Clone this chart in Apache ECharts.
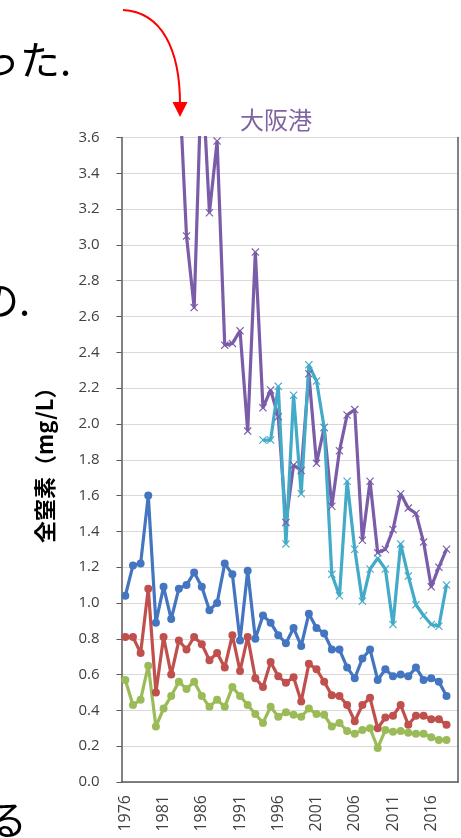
<!DOCTYPE html>
<html>
<head>
<meta charset="utf-8">
<script src="https://cdn.jsdelivr.net/npm/echarts@6/dist/echarts.min.js"></script>
<style>
  html, body {margin: 0; padding: 0; background: #fff; overflow: hidden;}
  #chart {width: 461px; height: 838px;}
</style>
</head>
<body>
<div id="chart"></div>
<script>
// 年 (1976-2019)
const years = []
for (let y = 1976; y <= 2019; y++) years.push(String(y))

const yTicks = ['0.0', '0.2', '0.4', '0.6', '0.8', '1.0', '1.2', '1.4', '1.6', '1.8',
    '2.0', '2.2', '2.4', '2.6', '2.8', '3.0', '3.2', '3.4', '3.6']

// 大阪港 (紫)
const osaka = [null, null, null, null, null, null, null, 3.95, 3.05, 2.65,
    4.0, 3.18, 3.58, 2.44, 2.45, 2.52, 1.96, 2.96, 2.09, 2.19,
    2.04, 1.45, 1.77, 1.74, 2.28, 1.78, 1.98, 1.54, 1.85, 2.05,
    2.08, 1.35, 1.68, 1.28, 1.30, 1.41, 1.61, 1.53, 1.50, 1.34,
    1.09, 1.20, 1.30, null]

// 水色
const cyan = [null, null, null, null, null, null, null, null, null, null,
    null, null, null, null, null, null, null, null, 1.91, 1.91,
    2.21, 1.33, 2.16, 1.61, 2.33, 2.24, 1.98, 1.16, 1.04, 1.68,
    1.30, 1.01, 1.19, 1.25, 1.19, 0.88, 1.33, 1.15, 0.99, 0.93,
    0.88, 0.87, 1.10, null]

// 青
const blue = [1.04, 1.21, 1.22, 1.60, 0.89, 1.09, 0.91, 1.08, 1.10, 1.17,
    1.09, 0.96, 1.00, 1.22, 1.16, 0.79, 1.18, 0.80, 0.93, 0.89,
    0.82, 0.775, 0.86, 0.76, 0.94, 0.86, 0.83, 0.74, 0.74, 0.64,
    0.58, 0.69, 0.74, 0.57, 0.63, 0.59, 0.60, 0.59, 0.64, 0.57,
    0.58, 0.56, 0.48, null]

// 赤
const red = [0.81, 0.81, 0.72, 1.08, 0.50, 0.81, 0.60, 0.79, 0.74, 0.81,
    0.77, 0.68, 0.72, 0.64, 0.82, 0.62, 0.81, 0.58, 0.53, 0.67,
    0.59, 0.555, 0.585, 0.45, 0.66, 0.63, 0.56, 0.485, 0.48, 0.43,
    0.34, 0.43, 0.47, 0.30, 0.36, 0.37, 0.43, 0.32, 0.37, 0.37,
    0.35, 0.35, 0.32, null]

// 緑
const green = [0.57, 0.43, 0.46, 0.65, 0.31, 0.41, 0.48, 0.56, 0.52, 0.56,
    0.48, 0.42, 0.46, 0.42, 0.53, 0.48, 0.43, 0.38, 0.33, 0.42,
    0.365, 0.39, 0.375, 0.365, 0.41, 0.38, 0.375, 0.31, 0.33, 0.285,
    0.27, 0.29, 0.30, 0.19, 0.29, 0.28, 0.285, 0.275, 0.27, 0.27,
    0.25, 0.235, 0.235, null]

const xMark = 'path://M0,1L1,0L5,4L9,0L10,1L6,5L10,9L9,10L5,6L1,10L0,9L4,5Z'
const cjk = '"Noto Sans CJK JP", "Noto Sans", sans-serif'
const num = '"Open Sans", "Noto Sans", sans-serif'

function lineSeries(data, color, symbol, size) {
    return {
        type: 'line',
        data: data,
        symbol: symbol,
        symbolSize: size,
        showSymbol: true,
        showAllSymbol: true,
        connectNulls: false,
        lineStyle: {color: color, width: 3.2},
        itemStyle: {color: color},
        animation: false
    }
}

const chart = echarts.init(document.getElementById('chart'), null, {renderer: 'canvas'})
chart.setOption({
    animation: false,
    title: {
        text: '大阪港',
        left: 271,
        top: 103,
        textAlign: 'center',
        textStyle: {color: '#8064a2', fontSize: 24, fontWeight: 'normal', fontFamily: cjk}
    },
    grid: {left: 121.5, right: 3, top: 137.5, bottom: 56},
    xAxis: {
        type: 'category',
        data: years,
        boundaryGap: true,
        axisLine: {lineStyle: {color: '#595959', width: 1.5}},
        axisTick: {interval: 0, length: 5, lineStyle: {color: '#595959'}},
        axisLabel: {interval: 4, rotate: 90, margin: 13, color: '#404040', fontSize: 16, fontFamily: num}
    },
    yAxis: [{
        type: 'value',
        min: 0,
        max: 3.6,
        interval: 0.2,
        name: '全窒素（mg/L）',
        nameLocation: 'middle',
        nameRotate: 90,
        nameGap: 66,
        nameTextStyle: {color: '#000', fontSize: 22, fontWeight: 'bold', fontFamily: cjk},
        axisLine: {show: true, lineStyle: {color: '#595959', width: 1.5}},
        axisTick: {show: true, length: 5, lineStyle: {color: '#595959'}},
        axisLabel: {
            margin: 22,
            color: '#404040',
            fontSize: 15,
            fontFamily: num,
            formatter: v => yTicks[Math.round(v / 0.2)]
        },
        splitLine: {lineStyle: {color: '#d9d9d9', width: 1}}
    }, {
        type: 'value',
        position: 'right',
        min: 0,
        max: 3.6,
        interval: 0.2,
        axisLine: {show: true, lineStyle: {color: '#595959', width: 1.5}},
        axisTick: {show: false},
        axisLabel: {show: false},
        splitLine: {show: false}
    }],
    series: [
        lineSeries(blue, '#4475c0', 'circle', 8),
        lineSeries(red, '#c0504d', 'circle', 8),
        lineSeries(green, '#9bbb59', 'circle', 8),
        lineSeries(osaka, '#7a5ca8', xMark, 8),
        lineSeries(cyan, '#43aac8', xMark, 8)
    ],
    graphic: [
        {type: 'text', left: -20, top: 40, style: {text: 'った.', fontSize: 40, fontFamily: cjk, fill: '#000'}},
        {type: 'text', left: -21, top: 280, style: {text: 'の.', fontSize: 40, fontFamily: cjk, fill: '#000'}},
        {type: 'text', left: -13, top: 800, style: {text: 'る', fontSize: 40, fontFamily: cjk, fill: '#000'}},
        {
            type: 'bezierCurve',
            shape: {x1: 123, y1: 10, cpx1: 162, cpy1: 12, cpx2: 180, cpy2: 50, x2: 180, y2: 104},
            style: {stroke: '#ff0000', lineWidth: 2, fill: null}
        },
        {
            type: 'polygon',
            shape: {points: [[172.5, 102], [187.5, 102], [180, 117]]},
            style: {fill: '#ff0000'}
        }
    ]
})
</script>
</body>
</html>
